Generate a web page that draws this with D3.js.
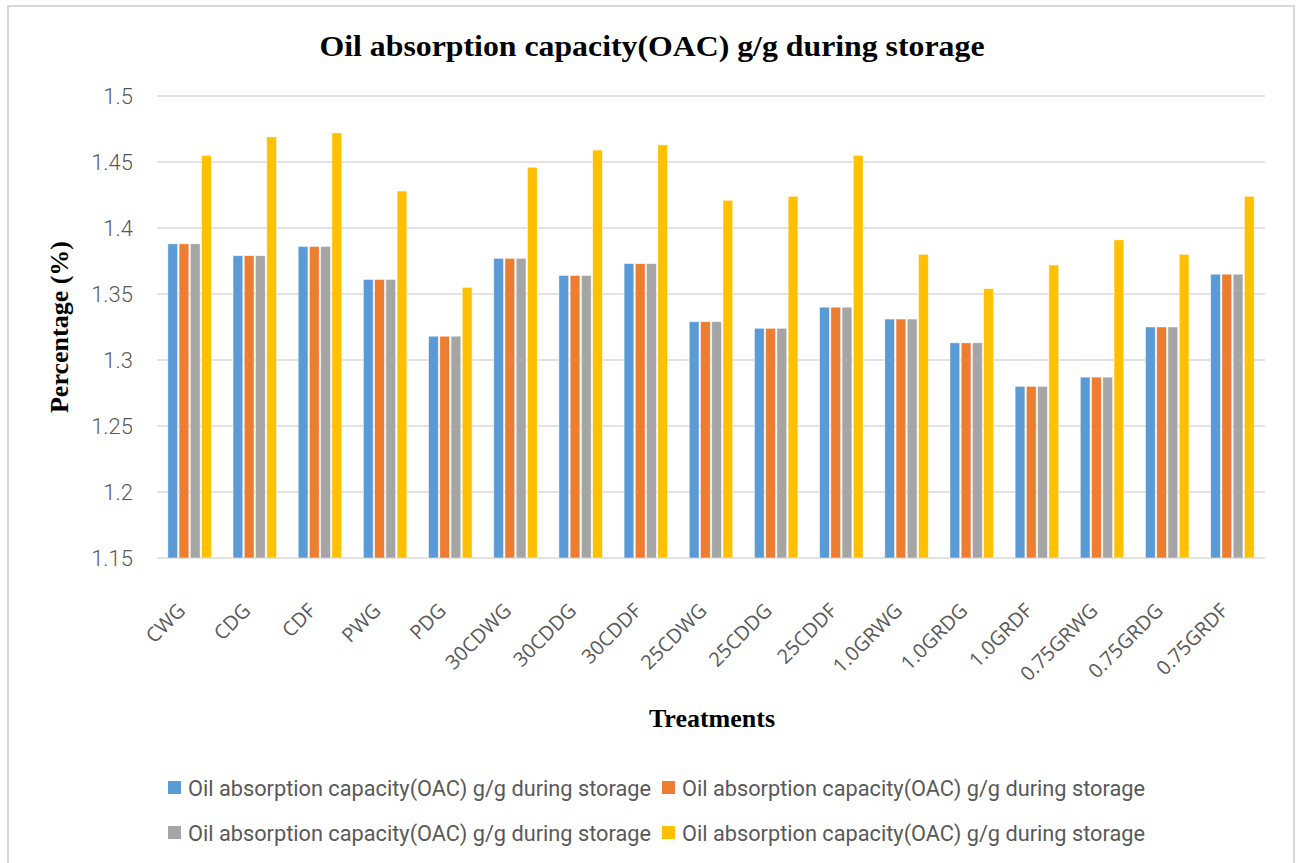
<!DOCTYPE html>
<html>
<head>
<meta charset="utf-8">
<script src="https://cdn.jsdelivr.net/npm/d3@7/dist/d3.min.js"></script>
<style>
  html, body { margin: 0; padding: 0; background: #fff; }
  svg { display: block; }
</style>
</head>
<body>
<div id="chart"></div>
<script>
// data
const treatments = ['CWG', 'CDG', 'CDF', 'PWG', 'PDG', '30CDWG', '30CDDG', '30CDDF',
  '25CDWG', '25CDDG', '25CDDF', '1.0GRWG', '1.0GRDG', '1.0GRDF', '0.75GRWG', '0.75GRDG', '0.75GRDF']
const series1 = [1.388, 1.379, 1.386, 1.361, 1.318, 1.377, 1.364, 1.373, 1.329, 1.324, 1.340, 1.331, 1.313, 1.280, 1.287, 1.325, 1.365]
const series2 = [1.388, 1.379, 1.386, 1.361, 1.318, 1.377, 1.364, 1.373, 1.329, 1.324, 1.340, 1.331, 1.313, 1.280, 1.287, 1.325, 1.365]
const series3 = [1.388, 1.379, 1.386, 1.361, 1.318, 1.377, 1.364, 1.373, 1.329, 1.324, 1.340, 1.331, 1.313, 1.280, 1.287, 1.325, 1.365]
const series4 = [1.455, 1.469, 1.472, 1.428, 1.355, 1.446, 1.459, 1.463, 1.421, 1.424, 1.455, 1.380, 1.354, 1.372, 1.391, 1.380, 1.424]
const seriesNames = [
  'Oil absorption capacity(OAC) g/g during storage',
  'Oil absorption capacity(OAC) g/g during storage',
  'Oil absorption capacity(OAC) g/g during storage',
  'Oil absorption capacity(OAC) g/g during storage'
]
const colors = ['#5B9BD5', '#ED7D31', '#A5A5A5', '#FFC000']
const yTicks = [1.15, 1.2, 1.25, 1.3, 1.35, 1.4, 1.45, 1.5]

const width = 1296
const height = 863
const margin = {top: 96, right: 31, bottom: 305, left: 157}
const plotW = width - margin.left - margin.right
const plotH = height - margin.top - margin.bottom

const allSeries = [series1, series2, series3, series4]

const svg = d3.select('#chart').append('svg')
  .attr('width', width)
  .attr('height', height)

// outer chart border
svg.append('rect')
  .attr('x', 8).attr('y', 6)
  .attr('width', 1286).attr('height', 870)
  .attr('fill', 'none')
  .attr('stroke', '#d9d9d9')
  .attr('stroke-width', 2)

svg.append('text')
  .attr('x', 652)
  .attr('y', 56)
  .attr('text-anchor', 'middle')
  .attr('textLength', 665)
  .attr('lengthAdjust', 'spacingAndGlyphs')
  .style('font-family', '"Liberation Serif", "Times New Roman", serif')
  .style('font-weight', 'bold')
  .style('font-size', '30px')
  .attr('fill', '#000')
  .text('Oil absorption capacity(OAC) g/g during storage')

const g = svg.append('g').attr('transform', `translate(${margin.left},${margin.top})`)

const x0 = d3.scaleBand().domain(treatments).range([0, plotW]).paddingInner(0.31).paddingOuter(0.155)
const x1 = d3.scaleBand().domain(d3.range(4)).range([0, x0.bandwidth()])
const y = d3.scaleLinear().domain([1.15, 1.5]).range([plotH, 0])

// gridlines
g.append('g')
  .selectAll('line')
  .data(yTicks)
  .join('line')
  .attr('x1', 0).attr('x2', plotW)
  .attr('y1', d => y(d)).attr('y2', d => y(d))
  .attr('stroke', '#d9d9d9')
  .attr('stroke-width', 1.5)

// y axis labels
const yAxis = d3.axisLeft(y).tickValues(yTicks).tickSize(0).tickPadding(24).tickFormat(d => String(+d.toFixed(2)))
g.append('g')
  .call(yAxis)
  .call(s => s.select('.domain').remove())
  .selectAll('text')
  .style('font-family', 'Roboto, "Open Sans", sans-serif')
  .style('font-size', '22px')
  .style('font-weight', 300)
  .attr('fill', '#595959')

// bars
const groups = g.append('g')
  .selectAll('g')
  .data(treatments)
  .join('g')
  .attr('transform', d => `translate(${x0(d)},0)`)

groups.selectAll('rect')
  .data((d, i) => allSeries.map((s, k) => ({k, v: s[i]})))
  .join('rect')
  .attr('x', d => x1(d.k) + 0.75)
  .attr('width', x1.bandwidth() - 1.5)
  .attr('y', d => y(d.v))
  .attr('height', d => plotH - y(d.v))
  .attr('fill', d => colors[d.k])
  .attr('stroke', '#fff')
  .attr('stroke-opacity', 0.6)
  .attr('stroke-width', 0.75)

// x axis labels
const xAxis = d3.axisBottom(x0).tickSize(0).tickPadding(0)
const xg = g.append('g')
  .attr('transform', `translate(0,${plotH})`)
  .call(xAxis)
xg.select('.domain').remove()
xg.selectAll('text')
  .style('font-family', '"Open Sans", Roboto, sans-serif')
  .style('font-size', '20px')
  .attr('fill', '#595959')
  .attr('text-anchor', 'end')
  .attr('dy', 0)
  .attr('transform', 'translate(-3,54) rotate(-45)')

// axis titles
svg.append('text')
  .attr('transform', `translate(68,${margin.top + plotH / 2}) rotate(-90)`)
  .attr('text-anchor', 'middle')
  .style('font-family', '"Liberation Serif", "Times New Roman", serif')
  .style('font-weight', 'bold')
  .style('font-size', '26px')
  .text('Percentage (%)')

svg.append('text')
  .attr('x', 712)
  .attr('y', 727)
  .attr('text-anchor', 'middle')
  .style('font-family', '"Liberation Serif", "Times New Roman", serif')
  .style('font-weight', 'bold')
  .style('font-size', '26px')
  .text('Treatments')

// legend
const legendPos = [[168, 788], [662, 788], [168, 833], [662, 833]]
const legend = svg.append('g')
  .selectAll('g')
  .data(seriesNames)
  .join('g')
  .attr('transform', (d, i) => `translate(${legendPos[i][0]},${legendPos[i][1]})`)

legend.append('rect')
  .attr('x', 0).attr('y', -7)
  .attr('width', 13).attr('height', 13)
  .attr('fill', (d, i) => colors[i])

legend.append('text')
  .attr('x', 20)
  .attr('y', 8)
  .attr('textLength', 463)
  .attr('lengthAdjust', 'spacingAndGlyphs')
  .style('font-family', 'Roboto, "Open Sans", sans-serif')
  .style('font-size', '22px')
  .attr('fill', '#595959')
  .text(d => d)
</script>
</body>
</html>
